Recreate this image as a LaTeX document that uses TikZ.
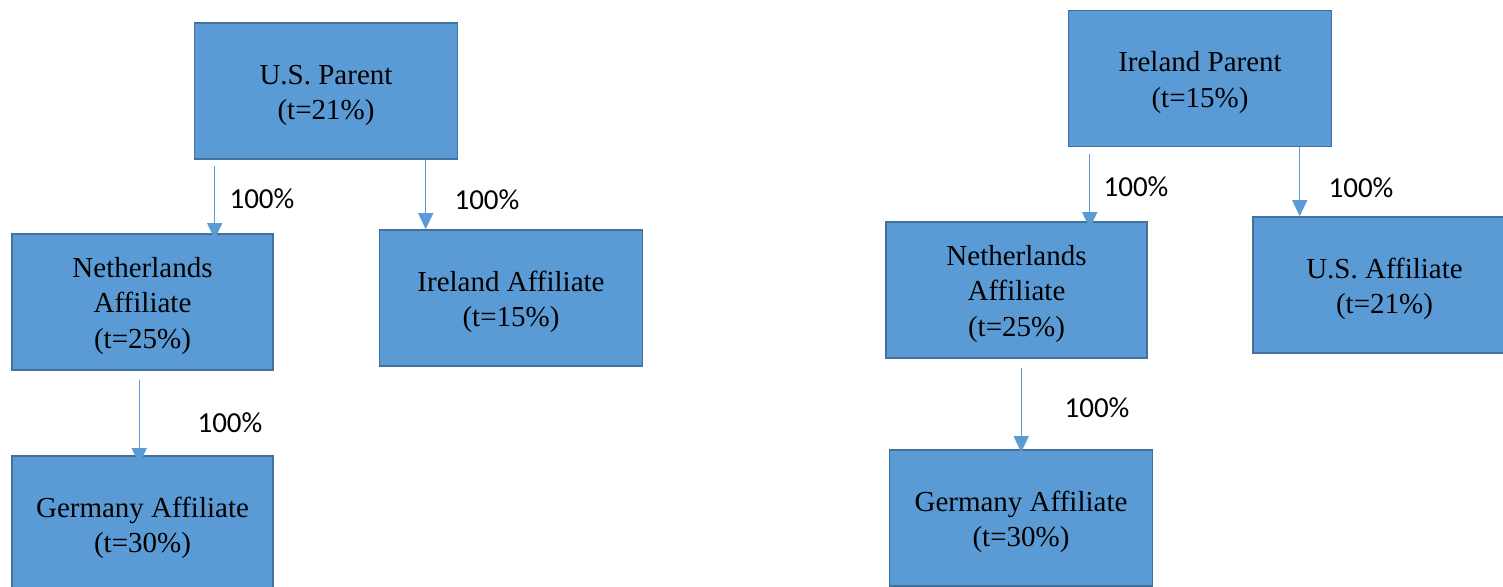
\documentclass[tikz,border=0pt]{standalone}
\usepackage{fontspec}
\setmainfont{Liberation Serif}
\newfontfamily\pctfont{Carlito}
\usetikzlibrary{arrows.meta}
\definecolor{boxblue}{HTML}{5B9BD5}
\definecolor{boxedge}{HTML}{41719C}
\newcommand{\toprow}{\rule{0pt}{14pt}}
\begin{document}
\begin{tikzpicture}[x=0.5pt,y=-0.5pt,
  entity/.style={draw=boxedge,fill=boxblue,line width=0.8pt,inner sep=0pt,
    minimum width=131.5pt,minimum height=68pt,align=center,
    font=\fontsize{14.5}{17.8}\selectfont},
  link/.style={draw=boxblue,line width=0.6pt,
    -{Triangle[length=8pt,width=7.5pt]}},
  pct/.style={inner sep=0pt,font=\pctfont\fontsize{14.5}{17}\selectfont}]
\useasboundingbox (0,0) rectangle (1503,587);

% left structure
\node[entity] (usp) at (326,91) {\toprow U.S. Parent\\(t=21\%)};
\node[entity,minimum width=130.5pt] (nla) at (142.5,302) {\toprow Netherlands\\Affiliate\\(t=25\%)};
\node[entity] (iea) at (511,298) {\toprow Ireland Affiliate\\(t=15\%)};
\node[entity,minimum width=130.5pt] (gea) at (142.5,524) {\toprow Germany Affiliate\\(t=30\%)};

\draw[link] ([shift={(21,6)}]usp.south west) -- ([shift={(21,6)}]usp.south west |- nla.north);
\draw[link] ([shift={(232,0)}]usp.south west) -- ([shift={(232,0)}]usp.south west |- iea.north);
\draw[link] ([shift={(128,9)}]nla.south west) -- ([shift={(128,9)}]nla.south west |- gea.north);

\node[pct] (pA) at (262,199) {100\%};
\node[pct] (pB) at (487,200) {100\%};
\node[pct] (pC) at (230,423) {100\%};

% right structure
\node[entity] (irp) at (1200,78.5) {\toprow Ireland Parent\\(t=15\%)};
\node[entity,minimum width=130.5pt] (nlb) at (1016.5,290) {\toprow Netherlands\\Affiliate\\(t=25\%)};
\node[entity] (usa) at (1384.5,285) {\toprow U.S. Affiliate\\(t=21\%)};
\node[entity] (geb) at (1021,518) {\toprow Germany Affiliate\\(t=30\%)};

\draw[link] ([shift={(22,7)}]irp.south west) -- ([shift={(22,7)}]irp.south west |- nlb.north);
\draw[link] ([shift={(232,0)}]irp.south west) -- ([shift={(232,0)}]irp.south west |- usa.north);
\draw[link,shorten >=3pt] ([shift={(136,9)}]nlb.south west) -- ([shift={(136,9)}]nlb.south west |- geb.north);

\node[pct] (pD) at (1136,187) {100\%};
\node[pct] (pE) at (1361,188) {100\%};
\node[pct] (pF) at (1097,408) {100\%};
\end{tikzpicture}
\end{document}
